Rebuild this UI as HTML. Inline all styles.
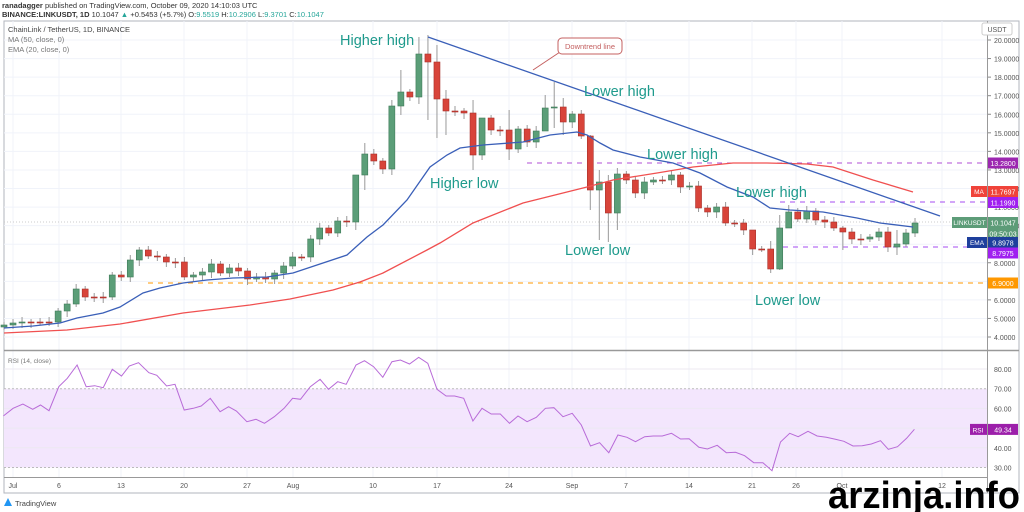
<!DOCTYPE html>
<html><head><meta charset="utf-8"><style>
body{margin:0;background:#fff;width:1024px;height:512px;overflow:hidden;font-family:"Liberation Sans",sans-serif}
svg{position:absolute;left:0;top:0}
</style></head><body>
<svg id="s" width="1024" height="512" viewBox="0 0 1024 512" font-family="Liberation Sans, sans-serif"></svg>
<script>
const S=document.getElementById('s');let h='';
const add=t=>h+=t;
add('<rect x="4" y="21" width="1015" height="472" fill="#fff" stroke="#b2b5be" stroke-width="1"/>');
const dx=[13,59,121,184,247,293,373,437,509,572,626,689,752,796,842,942];
const dl=['Jul','6','13','20','27','Aug','10','17','24','Sep','7','14','21','26','Oct','12'];
dx.forEach(x=>add(`<line x1="${x}" y1="21" x2="${x}" y2="477" stroke="#f0f3fa"/>`));
const py=p=>40+(20-p)*18.5625;
for(let p=4;p<=20;p++){const y=py(p);add(`<line x1="4" y1="${y}" x2="987" y2="${y}" stroke="#f0f3fa"/>`);
 add(`<line x1="987" y1="${y}" x2="991" y2="${y}" stroke="#888"/><text x="994" y="${y+3}" font-size="7" fill="#555">${p.toFixed(4)}</text>`);}
const ry=r=>369+(80-r)*1.97;
add(`<rect x="4" y="${ry(70)}" width="983" height="${ry(30)-ry(70)}" fill="#f3e6fd"/>`);
[80,60,50,40].forEach(r=>add(`<line x1="4" y1="${ry(r)}" x2="987" y2="${ry(r)}" stroke="#ece9f2"/>`));
[70,30].forEach(r=>add(`<line x1="4" y1="${ry(r)}" x2="987" y2="${ry(r)}" stroke="#bbb" stroke-dasharray="2,2"/>`));
[80,70,60,50,40,30].forEach(r=>add(`<text x="994" y="${ry(r)+3}" font-size="7" fill="#555">${r.toFixed(2)}</text>`));
add('<line x1="4" y1="350.5" x2="1019" y2="350.5" stroke="#999" stroke-width="1.5"/>');
add('<line x1="987.5" y1="21" x2="987.5" y2="493" stroke="#999"/>');
add('<line x1="4" y1="477.5" x2="987" y2="477.5" stroke="#999"/>');
dx.forEach((x,i)=>add(`<text x="${x}" y="488" font-size="7" fill="#555" text-anchor="middle">${dl[i]}</text>`));
add('<rect x="982" y="23" width="30" height="12" rx="2" fill="#fff" stroke="#ccc"/><text x="997" y="32" font-size="7" fill="#555" text-anchor="middle">USDT</text>');
add('<line x1="148" y1="283" x2="987" y2="283" stroke="#ff9800" stroke-dasharray="5,5"/>');
add('<line x1="527" y1="163" x2="987" y2="163" stroke="#b14fd6" stroke-dasharray="5,5"/>');
add('<line x1="780" y1="202" x2="987" y2="202" stroke="#a44cf0" stroke-dasharray="5,5"/>');
add('<line x1="783" y1="247" x2="987" y2="247" stroke="#a44cf0" stroke-dasharray="5,5"/>');
add('<line x1="4" y1="222" x2="987" y2="222" stroke="#ccc" stroke-dasharray="1,2"/>');
const C=[325,323,322,322,322,322,311,304,289,297,297,297,275,277,260,250,256,257,262,262,277,275,272,264,273,268,271,279,277,279,273,266,257,257,239,228,233,221,222,175,154,161,169,106,92,97,54,62,99,111,111,113,155,118,130,130,149,129,142,131,108,107,122,114,136,190,182,213,174,180,193,182,180,180,175,187,186,208,212,207,223,223,230,249,249,269,228,212,219,211,220,222,228,232,239,239,237,232,247,244,233,223];
const W={39:[175,230],40:[143,190],43:[100,175],44:[70,115],46:[37,104],47:[35,120],48:[45,138],49:[90,135],52:[100,170],53:[140,160],56:[110,160],60:[95,130],61:[82,128],62:[98,135],65:[135,210],66:[170,240],67:[175,242],68:[168,230],83:[240,255],85:[241,273],86:[215,270],87:[205,228],93:[226,250],99:[230,255],101:[218,237]};
for(let i=0;i<C.length;i++){const x=4+i*9.02;const o=i?C[i-1]:327,c=C[i];
 const up=c<o;const col=up?'#5b9e78':'#d8443a';const top=Math.min(o,c),bot=Math.max(o,c);
 let hi=top-3-(i%3),lo=bot+3+(i%4);if(W[i]){hi=W[i][0];lo=W[i][1];}
 add(`<line x1="${x}" y1="${hi}" x2="${x}" y2="${lo}" stroke="#999"/>`);
 add(`<rect x="${x-3}" y="${top}" width="6" height="${Math.max(bot-top,1)}" fill="${col}" stroke="${up?'#3f7a58':'#a8302a'}" stroke-width="0.6"/>`);}
const pl=(pts,col,w)=>add(`<polyline fill="none" stroke="${col}" stroke-width="${w}" points="${pts.map(p=>p.join(',')).join(' ')}"/>`);
pl([[4,333],[67,330],[120,324],[183,313],[250,305],[290,299],[333,290],[360,282],[383,273],[427,250],[440,243],[473,223],[523,203],[587,187],[613,180],[657,173],[693,167],[733,163],[767,163],[807,164],[833,167],[873,180],[913,192]],'#f05050',1.3);
pl([[4,328],[33,326],[60,323],[77,318],[103,313],[120,307],[143,293],[160,288],[183,283],[207,280],[233,278],[267,277],[293,273],[317,265],[347,255],[367,237],[383,225],[407,200],[430,167],[447,155],[460,148],[483,145],[523,142],[550,135],[577,132],[587,135],[600,143],[613,150],[640,157],[673,163],[700,173],[727,187],[753,197],[770,208],[790,210],[823,212],[857,218],[880,223],[913,227]],'#3a5fb8',1.3);
add('<line x1="428" y1="37" x2="940" y2="216" stroke="#3a5fb8" stroke-width="1.3"/>');
add('<path d="M533,70 L560,52" stroke="#c46060" fill="none"/><rect x="558" y="38" width="64" height="16" rx="4" fill="#fff" stroke="#c46060"/><text x="590" y="49" font-size="7.5" fill="#c46060" text-anchor="middle">Downtrend line</text>');
const L=[['Higher high',340,45],['Lower high',584,96],['Lower high',647,159],['Higher low',430,188],['Lower high',736,197],['Lower low',565,255],['Lower low',755,305]];
L.forEach(l=>add(`<text x="${l[1]}" y="${l[2]}" font-size="14.5" fill="#1e9a8c">${l[0]}</text>`));
const R=[[5,228],[20,205],[35,192],[50,208],[62,195],[75,212],[90,140],[103,115],[118,75],[132,140],[145,137],[158,143],[172,88],[186,108],[198,78],[212,68],[228,98],[240,106],[255,138],[268,133],[282,210],[296,205],[308,198],[322,175],[337,215],[350,200],[362,213],[378,245],[392,238],[405,250],[420,230],[435,205],[448,175],[460,178],[475,140],[490,118],[503,148],[517,125],[530,133],[545,75],[558,62],[572,80],[586,112],[600,65],[613,60],[627,72],[641,52],[655,70],[669,148],[683,168],[696,168],[710,175],[724,243],[738,205],[752,222],[766,222],[780,250],[793,228],[807,245],[821,232],[835,205],[848,203],[862,230],[876,220],[890,255],[904,318],[918,308],[932,338],[946,285],[960,292],[973,305],[987,290],[1000,288],[1014,288],[1028,280],[1042,297],[1055,296],[1070,322],[1083,327],[1098,316],[1112,338],[1126,337],[1140,347],[1154,368],[1168,368],[1182,392],[1195,306],[1209,280],[1222,290],[1237,274],[1251,288],[1265,292],[1279,298],[1292,304],[1306,318],[1320,317],[1334,312],[1348,302],[1360,328],[1374,320],[1388,295],[1400,268]];
pl(R.map(p=>[(p[0]/1.531).toFixed(1),(p[1]/3+340).toFixed(1)]),'#b86bd8',1);
const tag=(y,col,txt)=>add(`<rect x="988" y="${y-5.5}" width="30" height="11" fill="${col}"/><text x="1003" y="${y+3}" font-size="7" fill="#fff" text-anchor="middle">${txt}</text>`);
tag(163,'#9c27b0','13.2800');
add('<rect x="971" y="186" width="16" height="11" fill="#f0433a"/><text x="979" y="194" font-size="6.5" fill="#fff" text-anchor="middle">MA</text>');tag(191.5,'#f0433a','11.7697');
tag(202.5,'#a020f0','11.1990');
add('<rect x="952" y="217" width="35" height="11" fill="#5d9c78"/><text x="969.5" y="225" font-size="6.5" fill="#fff" text-anchor="middle">LINKUSDT</text>');tag(222.5,'#5d9c78','10.1047');
tag(233.5,'#5d9c78','09:50:03');
add('<rect x="967" y="237" width="20" height="11" fill="#1e3f9c"/><text x="977" y="245" font-size="6.5" fill="#fff" text-anchor="middle">EMA</text>');tag(242.5,'#1e3f9c','9.8978');
tag(253,'#a020f0','8.7975');
tag(283,'#ff9800','6.9000');
add(`<rect x="970" y="${ry(49.34)-5.5}" width="17" height="11" fill="#9c1faa"/><text x="978" y="${ry(49.34)+3}" font-size="6.5" fill="#fff" text-anchor="middle">RSI</text>`);tag(ry(49.34),'#9c1faa','49.34');
add('<text x="8" y="32" font-size="7.5" fill="#444">ChainLink / TetherUS, 1D, BINANCE</text><text x="8" y="42" font-size="7.5" fill="#777">MA (50, close, 0)</text><text x="8" y="52" font-size="7.5" fill="#777">EMA (20, close, 0)</text>');
add('<text x="8" y="363" font-size="6.5" fill="#777">RSI (14, close)</text>');
add('<text x="2" y="8" font-size="7.5" fill="#333"><tspan font-weight="bold">ranadagger</tspan> published on TradingView.com, October 09, 2020 14:10:03 UTC</text>');
add('<text x="2" y="17" font-size="7.5" fill="#333"><tspan font-weight="bold">BINANCE:LINKUSDT, 1D</tspan> 10.1047 <tspan fill="#26a69a">▲</tspan> +0.5453 (+5.7%) O:<tspan fill="#26a69a">9.5519</tspan> H:<tspan fill="#26a69a">10.2906</tspan> L:<tspan fill="#26a69a">9.3701</tspan> C:<tspan fill="#26a69a">10.1047</tspan></text>');
add('<path d="M4,506 L8,498 L12,506 Z" fill="#2196f3"/><text x="15" y="506" font-size="7.5" fill="#444">TradingView</text>');
add('<text x="1020" y="508" font-size="38" font-weight="bold" fill="#000" text-anchor="end" textLength="192" lengthAdjust="spacingAndGlyphs" font-family="Liberation Sans Narrow, Liberation Sans, sans-serif">arzinja.info</text>');
S.innerHTML=h;
</script>
</body></html>
